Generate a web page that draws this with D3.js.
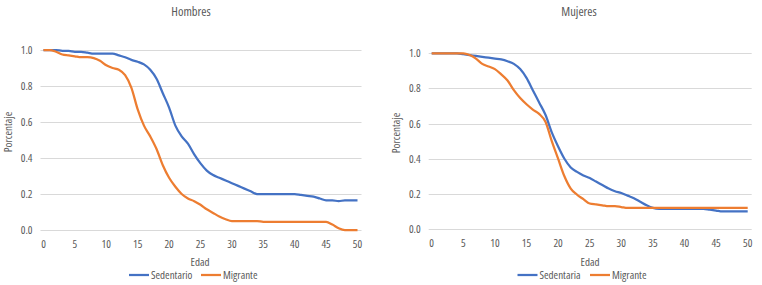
<!DOCTYPE html>
<html>
<head>
<meta charset="utf-8">
<script src="https://cdn.jsdelivr.net/npm/d3@7"></script>
<style>
  body { margin: 0; background: #fff; }
  text { font-family: "Open Sans", sans-serif; font-stretch: condensed; fill: #595959; }
</style>
</head>
<body>
<div id="chart"></div>
<script>
// Data
var ages = d3.range(0, 51);
var y_ticks = [0, 0.2, 0.4, 0.6, 0.8, 1.0];
var x_ticks = [0, 5, 10, 15, 20, 25, 30, 35, 40, 45, 50];

var hombres_sedentario = [
    1.0, 1.0, 1.0, 0.995, 0.995, 0.99, 0.99, 0.985, 0.98, 0.98,
    0.98, 0.98, 0.97, 0.96, 0.945, 0.935, 0.92, 0.89, 0.84, 0.76,
    0.68, 0.58, 0.52, 0.48, 0.42, 0.37, 0.33, 0.305, 0.29, 0.275,
    0.26, 0.245, 0.23, 0.215, 0.2, 0.2, 0.2, 0.2, 0.2, 0.2,
    0.2, 0.195, 0.19, 0.185, 0.175, 0.165, 0.165, 0.16, 0.165, 0.165,
    0.165
];
var hombres_migrante = [
    1.0, 1.0, 0.99, 0.975, 0.97, 0.965, 0.96, 0.96, 0.955, 0.94,
    0.915, 0.9, 0.89, 0.86, 0.79, 0.67, 0.58, 0.52, 0.45, 0.36,
    0.29, 0.24, 0.2, 0.175, 0.16, 0.14, 0.115, 0.095, 0.075, 0.06,
    0.05, 0.05, 0.05, 0.05, 0.05, 0.045, 0.045, 0.045, 0.045, 0.045,
    0.045, 0.045, 0.045, 0.045, 0.045, 0.045, 0.03, 0.01, 0, 0,
    0
];
var mujeres_sedentaria = [
    1.0, 1.0, 1.0, 1.0, 1.0, 0.995, 0.99, 0.985, 0.98, 0.975,
    0.97, 0.965, 0.955, 0.94, 0.91, 0.86, 0.79, 0.72, 0.65, 0.55,
    0.47, 0.40, 0.35, 0.325, 0.305, 0.29, 0.27, 0.25, 0.23, 0.215,
    0.205, 0.19, 0.175, 0.155, 0.135, 0.12, 0.115, 0.115, 0.115, 0.115,
    0.115, 0.115, 0.115, 0.115, 0.11, 0.105, 0.1, 0.1, 0.1, 0.1,
    0.1
];
var mujeres_migrante = [
    1.0, 1.0, 1.0, 1.0, 1.0, 1.0, 0.99, 0.97, 0.94, 0.925,
    0.91, 0.88, 0.845, 0.79, 0.745, 0.71, 0.68, 0.655, 0.61, 0.5,
    0.4, 0.3, 0.23, 0.195, 0.17, 0.145, 0.14, 0.135, 0.13, 0.13,
    0.125, 0.12, 0.12, 0.12, 0.12, 0.12, 0.12, 0.12, 0.12, 0.12,
    0.12, 0.12, 0.12, 0.12, 0.12, 0.12, 0.12, 0.12, 0.12, 0.12,
    0.12
];

var blue = "#4472C4";
var orange = "#ED7D31";

var chart_width = 762;
var chart_height = 285;

var svg = d3.select("#chart")
    .append("svg")
    .attr("width", chart_width)
    .attr("height", chart_height);

function drawPanel(p) {
    var x_scale = d3.scaleLinear().domain([0, 50]).range([p.x0, p.x1]);
    var y_scale = d3.scaleLinear().domain([0, 1]).range([p.y0, p.y1]);
    var g = svg.append("g");

    // Gridlines
    g.selectAll(".grid")
        .data(y_ticks)
        .enter()
        .append("line")
        .attr("x1", p.x0 - 3)
        .attr("x2", p.x1 + 4)
        .attr("y1", d => Math.round(y_scale(d)) + 0.5)
        .attr("y2", d => Math.round(y_scale(d)) + 0.5)
        .attr("stroke", "#d9d9d9")
        .attr("stroke-width", 1);

    // Y axis labels
    g.selectAll(".ylab")
        .data(y_ticks)
        .enter()
        .append("text")
        .attr("x", p.x0 - 11)
        .attr("y", d => y_scale(d) + 4)
        .attr("text-anchor", "end")
        .style("font-size", "11px")
        .text(d => d3.format(".1f")(d));

    // X axis labels
    g.selectAll(".xlab")
        .data(x_ticks)
        .enter()
        .append("text")
        .attr("x", d => x_scale(d))
        .attr("y", p.y0 + 18)
        .attr("text-anchor", "middle")
        .style("font-size", "11px")
        .text(d => d);

    // Lines
    var line = d3.line()
        .x((d, i) => x_scale(ages[i]))
        .y(d => y_scale(d))
        .curve(d3.curveMonotoneX);

    p.series.forEach(function(s) {
        g.append("path")
            .datum(s.values)
            .attr("fill", "none")
            .attr("stroke", s.color)
            .attr("stroke-width", 2.25)
            .attr("stroke-linejoin", "round")
            .attr("d", line);
    });

    // Title
    g.append("text")
        .attr("x", p.title_x)
        .attr("y", 16)
        .attr("text-anchor", "middle")
        .style("font-size", "12.5px")
        .text(p.title);

    // Axis titles
    g.append("text")
        .attr("x", p.xlabel_x)
        .attr("y", 266)
        .attr("text-anchor", "middle")
        .style("font-size", "11px")
        .text("Edad");

    g.append("text")
        .attr("transform", "translate(" + p.ylabel_x + "," + p.ylabel_y + ") rotate(-90)")
        .attr("text-anchor", "middle")
        .style("font-size", "11px")
        .text("Porcentaje");

    // Legend
    var lg = g.selectAll(".legend")
        .data(p.series)
        .enter()
        .append("g")
        .attr("transform", (d, i) => "translate(" + p.legend_x[i] + ",275)");

    lg.append("line")
        .attr("x1", 0)
        .attr("x2", 20)
        .attr("y1", 0)
        .attr("y2", 0)
        .attr("stroke", d => d.color)
        .attr("stroke-width", 2.25);

    lg.append("text")
        .attr("x", 22)
        .attr("y", 4)
        .style("font-size", "11px")
        .text(d => d.name);
}

drawPanel({
    title: "Hombres", title_x: 191,
    x0: 43.5, x1: 357.5, y0: 230, y1: 50,
    xlabel_x: 200, ylabel_x: 12, ylabel_y: 132,
    legend_x: [129, 201],
    series: [
        { name: "Sedentario", color: blue, values: hombres_sedentario },
        { name: "Migrante", color: orange, values: hombres_migrante }
    ]
});

drawPanel({
    title: "Mujeres", title_x: 579,
    x0: 431.7, x1: 747.7, y0: 229, y1: 53.3,
    xlabel_x: 590, ylabel_x: 400, ylabel_y: 133,
    legend_x: [517.5, 590],
    series: [
        { name: "Sedentaria", color: blue, values: mujeres_sedentaria },
        { name: "Migrante", color: orange, values: mujeres_migrante }
    ]
});
</script>
</body>
</html>
